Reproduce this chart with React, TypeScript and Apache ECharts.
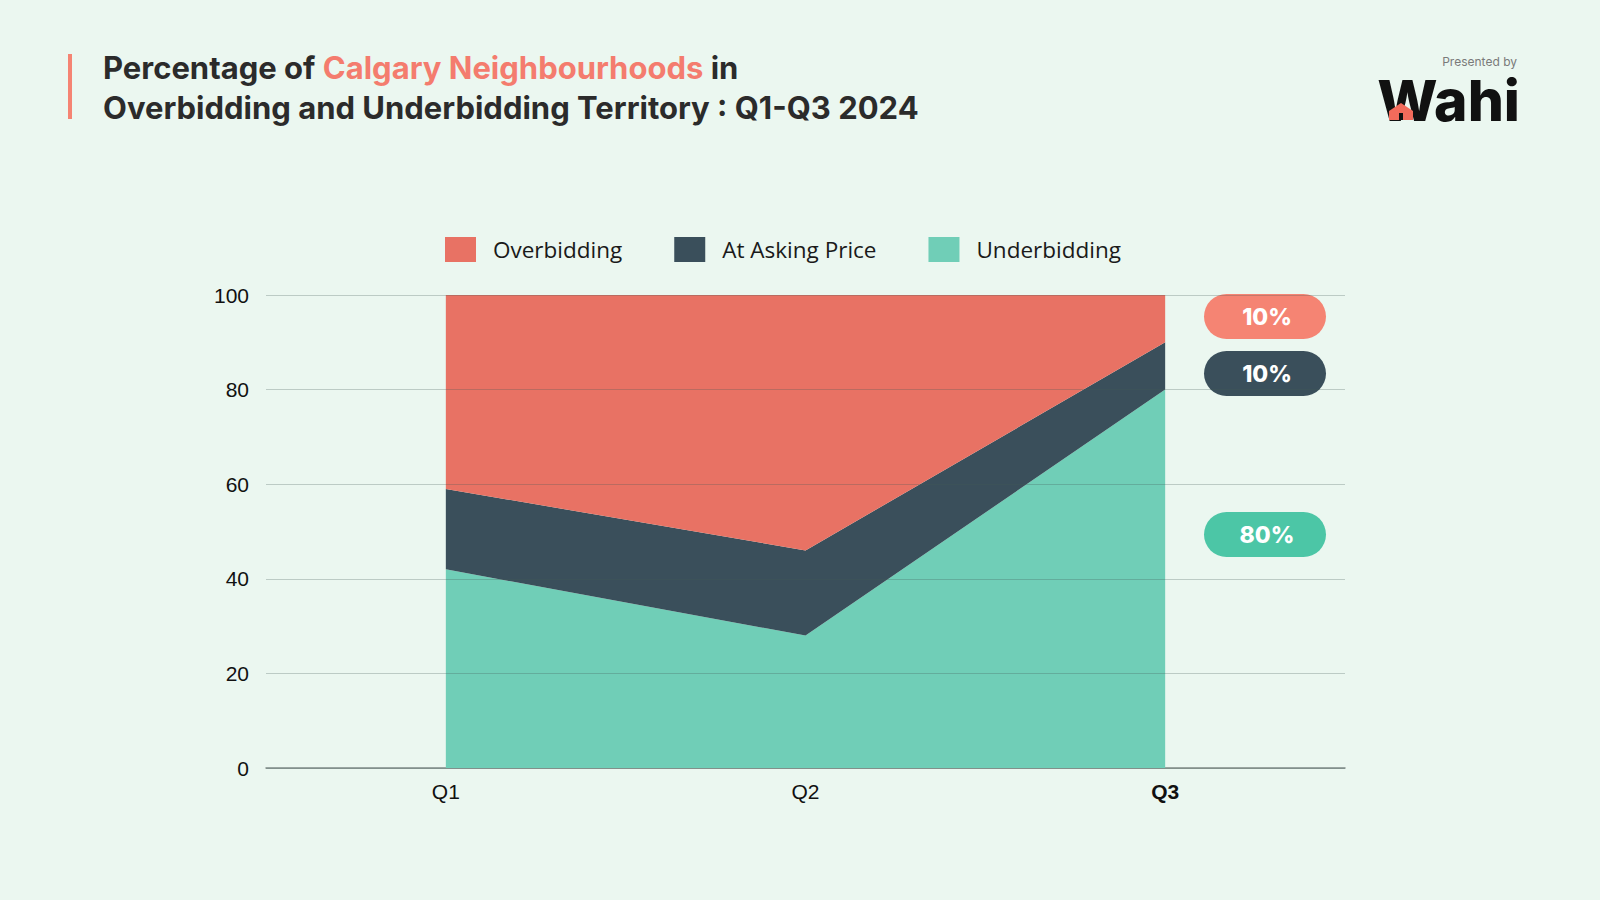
import React, { useEffect, useRef } from "react";
import * as echarts from "echarts";

const categories = ["Q1", "Q2", "Q3"];
const underbidding = [42, 28, 80];
const atAsking = [17, 18, 10];
const overbidding = [41, 54, 10];
const yTicks = [0, 20, 40, 60, 80, 100];
const seriesNames = ["Overbidding", "At Asking Price", "Underbidding"];

const C_OVER = "#E87264";
const C_ASK = "#3A4F5B";
const C_UNDER = "#70CEB7";
const BG = "#EBF7F0";

export default function App() {
  const ref = useRef<HTMLDivElement>(null);
  useEffect(() => {
    if (!ref.current) return;
    const chart = echarts.init(ref.current, undefined, { renderer: "svg" });
    const last = categories.length - 1;
    const badge = (y: number, color: string, txt: string) => ({
      type: "group",
      children: [
        {
          type: "rect",
          shape: { x: 1204, y, width: 122, height: 45, r: 22.5 },
          style: { fill: color },
        },
        {
          type: "text",
          x: 1267,
          y: y + 23,
          style: {
            text: txt,
            fill: "#ffffff",
            font: "800 23px Inter, 'Open Sans', sans-serif",
            align: "center",
            verticalAlign: "middle",
          },
        },
      ],
    });
    chart.setOption({
      animation: false,
      backgroundColor: BG,
      legend: {
        data: seriesNames,
        left: 440,
        top: 232,
        itemWidth: 31,
        itemHeight: 25,
        itemGap: 52,
        icon: "rect",
        textStyle: {
          fontFamily: "'Open Sans', sans-serif",
          fontSize: 22.5,
          color: "#1a1a1a",
          padding: [0, 0, 0, 12],
        },
      },
      grid: { left: 266, right: 255, top: 295, bottom: 132 },
      xAxis: {
        type: "category",
        data: categories,
        boundaryGap: true,
        axisLine: { lineStyle: { color: "#7f8a86", width: 1.5 } },
        axisTick: { show: false },
        axisLabel: {
          margin: 13,
          fontFamily: "'Liberation Sans', Arial, sans-serif",
          fontSize: 21,
          color: "#111",
          formatter: (v: string, i: number) => (i === last ? `{b|${v}}` : v),
          rich: {
            b: {
              fontFamily: "'Liberation Sans', Arial, sans-serif",
              fontSize: 21,
              fontWeight: "bold",
              color: "#111",
            },
          },
        },
      },
      yAxis: {
        type: "value",
        min: yTicks[0],
        max: yTicks[yTicks.length - 1],
        interval: yTicks[1] - yTicks[0],
        z: 5,
        axisLine: { show: false },
        axisTick: { show: false },
        axisLabel: {
          margin: 17,
          fontFamily: "'Liberation Sans', Arial, sans-serif",
          fontSize: 21,
          color: "#111",
        },
        splitLine: { lineStyle: { color: "rgba(70,90,85,0.28)", width: 1.2 } },
      },
      series: [
        {
          name: "Underbidding",
          type: "line",
          stack: "total",
          data: underbidding,
          symbol: "none",
          lineStyle: { width: 0 },
          itemStyle: { color: C_UNDER },
          areaStyle: { color: C_UNDER, opacity: 1 },
        },
        {
          name: "At Asking Price",
          type: "line",
          stack: "total",
          data: atAsking,
          symbol: "none",
          lineStyle: { width: 0 },
          itemStyle: { color: C_ASK },
          areaStyle: { color: C_ASK, opacity: 1 },
        },
        {
          name: "Overbidding",
          type: "line",
          stack: "total",
          data: overbidding,
          symbol: "none",
          lineStyle: { width: 0 },
          itemStyle: { color: C_OVER },
          areaStyle: { color: C_OVER, opacity: 1 },
        },
      ],
      graphic: [
        {
          type: "rect",
          shape: { x: 68, y: 54, width: 4, height: 65 },
          style: { fill: "#F58473" },
        },
        {
          type: "text",
          x: 103,
          y: 67,
          style: {
            text: "{a|Percentage of }{b|Calgary Neighbourhoods}{a| in}",
            verticalAlign: "middle",
            rich: {
              a: { font: "700 31px Inter, 'Open Sans', sans-serif", fill: "#2B2B2B" },
              b: { font: "700 31px Inter, 'Open Sans', sans-serif", fill: "#F47C6E" },
            },
          },
        },
        {
          type: "text",
          x: 103,
          y: 107,
          style: {
            text: "Overbidding and Underbidding Territory : Q1-Q3 2024",
            font: "700 31px Inter, 'Open Sans', sans-serif",
            fill: "#2B2B2B",
            verticalAlign: "middle",
          },
        },
        {
          type: "text",
          x: 1517,
          y: 61,
          style: {
            text: "Presented by",
            font: "400 12px Inter, 'Open Sans', sans-serif",
            fill: "#7a7a7a",
            align: "right",
            verticalAlign: "middle",
          },
        },
        {
          type: "text",
          x: 1520,
          y: 100,
          style: {
            text: "Wahi",
            font: "800 57px Inter, 'Open Sans', sans-serif",
            fill: "#111111",
            align: "right",
            verticalAlign: "middle",
            lineHeight: 56,
          },
        },
        {
          type: "polygon",
          shape: {
            points: [
              [1389, 120],
              [1389, 111],
              [1401, 103],
              [1413, 111],
              [1413, 120],
            ],
          },
          style: { fill: "#F26B5B" },
        },
        {
          type: "rect",
          shape: { x: 1399, y: 113, width: 4, height: 7 },
          style: { fill: "#111111" },
        },
        badge(294, "#F58473", `${overbidding[last]}%`),
        badge(351, C_ASK, `${atAsking[last]}%`),
        badge(512, "#4CC6A6", `${underbidding[last]}%`),
      ],
    });
    return () => chart.dispose();
  }, []);
  return (
    <div
      ref={ref}
      style={{ position: "fixed", left: 0, top: 0, width: 1600, height: 900 }}
    />
  );
}
